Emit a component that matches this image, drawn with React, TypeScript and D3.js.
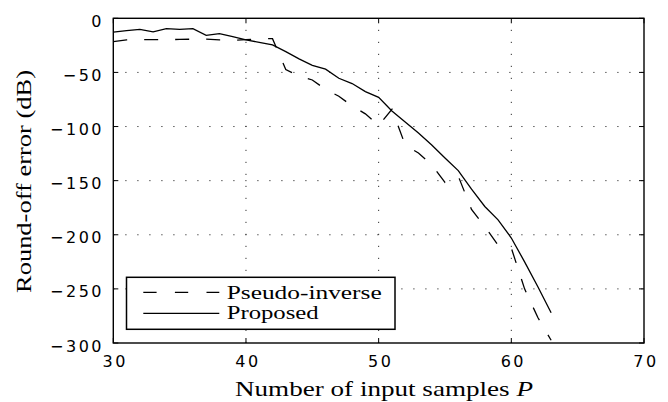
import React from 'react';
import * as d3 from 'd3';

// number of input samples P
const samples = [30, 31, 32, 33, 34, 35, 36, 37, 38, 39, 40, 41, 42, 43, 44, 45, 46, 47, 48, 49, 50, 51, 52, 53, 54, 55, 56, 57, 58, 59, 60, 61, 62, 63];

// round-off error (dB)
const pseudoInverse = [-21.6, -20, -19.7, -19.7, -19.7, -19.5, -19.3, -19.3, -20, -20.3, -19.7, -19, -18.8, -47.4, -53.5, -57, -65.7, -72, -81, -88.3, -99, -84, -117, -124.5, -135.4, -151.7, -145.8, -176.6, -192.4, -209.5, -212.3, -250, -276.5, -297.5];
const proposed = [-12.8, -11.4, -10.2, -12.6, -9.6, -10.2, -9.6, -15.7, -14.2, -17, -20, -22.2, -24.6, -30.8, -37.5, -43.4, -47, -55.4, -60.3, -67.7, -73, -85.6, -95.7, -106, -117, -129, -140.7, -157.9, -173.9, -186.2, -203, -225, -248, -272];

const xTicks = [30, 40, 50, 60, 70];
const xTickLabels = ['30', '40', '50', '60', '70'];
const yTicks = [0, -50, -100, -150, -200, -250, -300];
const yTickLabels = ['0', '\u221250', '\u2212100', '\u2212150', '\u2212200', '\u2212250', '\u2212300'];

const legendNames = ['Pseudo-inverse', 'Proposed'];

const W = 668;
const H = 402;
const left = 113.3, right = 644, top = 18.3, bottom = 343;

const App = () => {
    const x = d3.scaleLinear().domain([30, 70]).range([left, right]);
    const y = d3.scaleLinear().domain([-300, 0]).range([bottom, top]);

    const line = d3.line<number>()
        .x((d, i) => x(samples[i]))
        .y(d => y(d));

    const tickFont = {fontFamily: '"DejaVu Sans", sans-serif', fontSize: 16, letterSpacing: 2.5};
    const serif = '"Liberation Serif", serif';
    const T = 5;

    return (
        <svg width={W} height={H} style={{position: 'absolute', left: 0, top: 0, background: '#fff'}}>
            <rect width={W} height={H} fill="#fff"/>

            {/* grid */}
            <g stroke="#333" strokeWidth={1} strokeDasharray="1.2,10.8">
                {xTicks.slice(1, -1).map(t => (
                    <line key={'gx' + t} x1={x(t)} x2={x(t)} y1={bottom} y2={top}/>
                ))}
                {yTicks.slice(1, -1).map(t => (
                    <line key={'gy' + t} x1={left} x2={right} y1={y(t)} y2={y(t)}/>
                ))}
            </g>

            {/* data */}
            <path d={line(pseudoInverse) || ''} fill="none" stroke="#000" strokeWidth={1.3} strokeDasharray="14,17"/>
            <path d={line(proposed) || ''} fill="none" stroke="#000" strokeWidth={1.3}/>

            {/* box and ticks */}
            <rect x={left} y={top} width={right - left} height={bottom - top} fill="none" stroke="#000" strokeWidth={1.4}/>
            <g stroke="#000" strokeWidth={1}>
                {xTicks.map(t => (
                    <g key={'tx' + t}>
                        <line x1={x(t)} x2={x(t)} y1={bottom} y2={bottom - T}/>
                        <line x1={x(t)} x2={x(t)} y1={top} y2={top + T}/>
                    </g>
                ))}
                {yTicks.map(t => (
                    <g key={'ty' + t}>
                        <line x1={left} x2={left + T} y1={y(t)} y2={y(t)}/>
                        <line x1={right} x2={right - T} y1={y(t)} y2={y(t)}/>
                    </g>
                ))}
            </g>

            {/* tick labels */}
            {xTicks.map((t, i) => (
                <text key={'lx' + t} x={x(t) + 2} y={366.7} textAnchor="middle" style={tickFont}>{xTickLabels[i]}</text>
            ))}
            {yTicks.map((t, i) => (
                <text key={'ly' + t} x={104} y={y(t) + 8.5} textAnchor="end" style={tickFont}>{yTickLabels[i]}</text>
            ))}

            {/* axis titles */}
            <text x={384} y={396} textAnchor="middle" fontFamily={serif} fontSize={22} textLength={298} lengthAdjust="spacingAndGlyphs">
                Number of input samples <tspan fontStyle="italic">P</tspan>
            </text>
            <text transform="translate(31,181.5) rotate(-90)" textAnchor="middle" fontFamily={serif} fontSize={22} textLength={223} lengthAdjust="spacingAndGlyphs">
                Round-off error (dB)
            </text>

            {/* legend */}
            <rect x={126.5} y={277.3} width={268.5} height={52} fill="#fff" stroke="#000" strokeWidth={1.5}/>
            <line x1={143.3} x2={219.3} y1={292.3} y2={292.3} stroke="#000" strokeWidth={1.3} strokeDasharray="13.3,18.3"/>
            <line x1={143.3} x2={219.3} y1={313.3} y2={313.3} stroke="#000" strokeWidth={1.3}/>
            <text x={226.7} y={298.5} fontFamily={serif} fontSize={19} textLength={155} lengthAdjust="spacingAndGlyphs">{legendNames[0]}</text>
            <text x={226.7} y={319} fontFamily={serif} fontSize={19} textLength={92} lengthAdjust="spacingAndGlyphs">{legendNames[1]}</text>
        </svg>
    );
};

export default App;
